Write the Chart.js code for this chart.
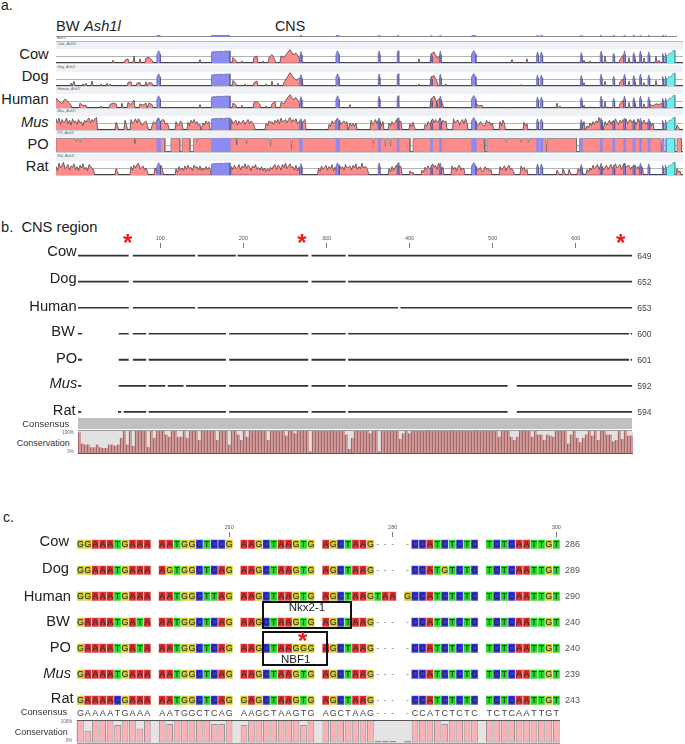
<!DOCTYPE html>
<html>
<head>
<meta charset="utf-8">
<title>Ash1l CNS alignment</title>
<script src="https://cdn.jsdelivr.net/npm/chart.js@4/dist/chart.umd.min.js"></script>
<style>
  html, body { margin: 0; padding: 0; background: #fff; }
  #page { position: relative; width: 685px; height: 744px; overflow: hidden; font-family: "Liberation Sans", Arial, sans-serif; color: #222; }
  #page canvas { position: absolute; }
  .lbl { position: absolute; white-space: pre; line-height: 1; }
  .shape { position: absolute; box-sizing: border-box; }
</style>
</head>
<body>
<div id="page"></div>
<script>
// =============================
// DATA - PANEL A (runs: first number is the start bin, the rest are % values)
// =============================
const trackNames = ["Cow", "Dog", "Human", "Mus", "PO", "Rat"];

const cowRuns = [[19,20],[23,20,30],[26,50],[28,30],[30,35,40,20],[48,25],[59,40,15],[62,15],[66,40,50],[69,15],
  [71,40,60,20],[75,50,40,70,95,60,70,40],[121,30],[125,60,80,35,50],[152,25],[157,30],[176,20],[178,15],[183,50],
  [188,25,55],[191,40],[193,30],[196,35],[200,50],[201,20]];
const dogRuns = [[5,20],[6,35],[9,15],[10,20],[12,35],[15,15],[17,20],[18,15],[24,25,30],[27,20,25],[30,30],[31,25,20],
  [59,40,15],[63,15],[66,25,35],[70,15],[72,35],[74,20],[76,25,60,95,65,40,55,45],[121,15],[125,60,75,30],[130,15],
  [155,10],[176,25],[183,35],[188,30,50],[191,35],[193,30],[196,25],[200,40]];
const humanRuns = [[0,70,50,30,65,45,20],[8,35,15,20],[15,15],[18,25,35,30],[22,35],[24,40,25,55],[28,30,20,35],[31,35,25],
  [48,25],[59,35,20],[62,20],[66,40,45,25],[70,15],[72,30,45],[75,40,30,70,95,60,75,40],[98,25],[102,5],[125,60,85,35],
  [127,50,70,20],[135,5],[140,30,15,20],[151,5],[167,35],[168,15],[176,20],[178,10],[183,50],[188,30,55],[191,40],
  [193,35],[196,30],[198,25,15,30,25,35]];

// Mus and Rat are read at half bin steps
const musRuns = [[0,80,50,85,40,75,55,60,85,45,70,35,80,55,65,40,75,50,60,30,70,55,75,85,50,75,60,80,90],[20,55,30],[23,70,35],
  [25,75,45,60,80,50,80,65,35,40,55,65,30],[32,30,60,45,60,85,50,60,75,70,40,50,30],[40,60,30,35,65,50],[44,55,30,70,50,75,45,60,30,40],
  [49,50,35,65,45,60],[58.5,75,45,60,70,35,65,45,55,70,40,60,75,45,65,55,35],
  [70,45,30,65,50,60,40,70,55,75,45,85,60,65,75,50,75,90,55,75,60,80,45,60,70,40,65,75],[91,40,25,65,45,60,75,50,70,40,55,65,45,60],
  [98,50,30,45,25,50],[105,70,40,55,75,45,75,60,30,60],[111,50,30,60,40,55,75,45,65,60],[118,45,25,55,20],
  [123,40,25,60,45,55,80,50,75,55,65,85,40,70,55,65],[132.5,80,50,65,70,35,60,75,45,80,50],[139,70,40,55,30,40,60,45,30,30,70,50,60,35,50],
  [148,60,30,70,45],[156,55,30,45],[175,45,25,60],[177,30,15,50,30,60,40,65,50,90,55,70],
  [183,60,35,50,70,40,65,45,80,55,40,70,50,75,60,80,45,65,75,50,70,60,40,80,55,65,45,70,40,55,35,60,30,50],[207,35,20]];
const ratRuns = [[0,60,30,85,50,70,90,45,60,75,35,65,55,80,40,60,30,70,50,80,40,55,30,75,65,45,40],[20,45,25],
  [25,60,35,70,50,75,85,45,55,65,35,50,25],[33,50,30,60,45,70,35],
  [40,45,20,60,35,50,30,65,40,70,45,55,30,70,50,60,35,65,30,50,35,60,40,55,30],
  [58.5,60,40,70,45,55,75,35,65,50,80,45,70,60,30,65,50,75,40,55,35,60,30,50,25,45,30,55,40,65,75,40,70,60,35,75,55,85,45,65,80,50,60,35,70,30,55],
  [87.5,50,25,65,40,55,70,35,60,45,75,30,55,40,65,70,45,60,35,75,50,55,65,35,70,50,80,40,60,45,85,50,60,55,25],
  [111,45,25,60,35,55,70,40,65,60],[118,30,15,20],[122,35,20,55,40,65,45,50,80,55,70,40,85,60,35,55],[132,65,40,55,30,60,70,35,50,45],
  [139,70,40,60,30,45,55,25,30,60,40,50,30,40],[148,60,35,50,65,30,55,70,40,45,25],[155,65,40,55,25,40],[167,35,15],[169,45,20],[171,40,15],
  [174,45,30,55,25],[177,40,20,50,35,70,45,60,75,40,65,60,35,55,70,40,60,75,45,65,80,50,60,75,40,70,85,55,65,70,40,60,55,70,45,60,35,65,50],
  [207,45,20,30]];

// PO is nearly solid: solid spans and narrow dips
const poSpans = [[0,36.3],[38.3,41.3],[42,44.7],[45.8,118],[119,143],[143.6,173.5],[174.5,202.5],[207,208.5]];
const poTop = 97;
const poDips = [[6.8,75],[8,70],[26.3,60],[47,70],[60.2,50],[63.5,60],[71.5,40],[78.5,15],[81.5,10],[105.8,60],[109.7,45],
  [111.5,40],[142.8,20],[150,70],[155,70],[157.4,70],[163.5,3],[201.8,5]];

// narrow exon spans share the same place on all tracks
const exonSpans = [[33.6,34.8,88],[81.3,82,82],[93.3,94.4,88],[107.4,108,86],[113.7,114.3,88],[124.9,125.4,70],[127.8,128.4,85],
  [138.5,140,90],[160.2,160.8,80],[161.4,162.2,78],[174.8,175.4,75],[181.4,182,85],[185.6,186.2,70],[189.2,189.8,85],
  [192.3,192.9,75],[194.5,195.1,85],[197.3,197.9,80],[202,202.6,70],[203,203.5,72]];
const bigExon = [[51.7,0],[51.8,76],[52.5,82],[53,80],[53.6,84],[54.2,81],[54.8,85],[55.5,82],[56,83],[56.6,86],[57.4,84],[58,86],[58,0]];
const utrPoints = [[203.5,0],[203.5,50],[204,55],[204.5,72],[205,66],[205.5,85],[206.3,92],[206.3,0]];
const poUtrPoints = [[203.5,0],[203.5,97],[206.3,97],[206.3,0]];

// =============================
// DATA - PANEL B (segments are alignment positions)
// =============================
const laneNames = ["Cow", "Dog", "Human", "BW", "PO", "Mus", "Rat"];
const laneLengths = [649, 652, 653, 600, 601, 592, 594];
const alignTicks = [100, 200, 300, 400, 500, 600];

const cowSegs = [[1,62],[67,142],[145,191],[193,278],[282,323],[326,668]];
const dogSegs = [[1,62],[67,278],[282,323],[326,668]];
const humanSegs = [[1,62],[67,142],[145,386],[389,668]];
const bwSegs = [[1,6],[50,62],[67,83],[86,179],[183,278],[282,323],[326,664],[666,668]];
const poSegs = [[1,6],[50,62],[67,83],[86,179],[183,278],[282,323],[326,664],[666,668]];
const musSegs = [[1,5],[50,83],[86,106],[109,128],[131,179],[183,278],[282,323],[326,518],[529,668]];
const ratSegs = [[1,5],[49,53],[56,83],[86,179],[183,278],[282,323],[326,518],[529,668]];

const bConservation = [95,45,40,40,28,28,40,28,25,25,40,40,35,40,70,100,40,100,35,100,
  100,100,100,30,100,70,100,100,100,85,75,100,100,75,75,100,70,100,100,100,
  60,100,100,100,100,100,60,100,100,100,40,100,100,85,60,100,75,100,100,100,
  100,100,100,60,100,100,100,100,100,80,100,100,90,100,100,100,100,10,100,100,
  100,100,100,100,100,100,100,100,100,85,20,70,100,100,100,100,100,90,100,100,
  10,100,100,100,100,100,100,65,90,100,90,100,100,100,100,100,100,100,100,100,
  100,100,100,100,100,100,100,100,100,100,100,100,100,100,100,100,100,100,100,100,
  75,100,100,100,75,60,75,100,100,100,100,75,100,85,85,60,85,80,75,100,
  100,100,100,45,85,100,70,50,70,85,100,80,100,60,100,100,85,85,55,60,
  100,65,100,80,80];

// =============================
// DATA - PANEL C
// =============================
const seqNames = ["Cow", "Dog", "Human", "BW", "PO", "Mus", "Rat"];
const seqLengths = [286, 289, 290, 240, 240, 239, 243];
const seqCow   = "GGAAATGAAA AATGGCTCCG AAGCTAAGTG AGCTAAG--- -CCATCTCTC TCTCAATTGT";
const seqDog   = "GGAAATGAAA AGTGGCTCAG AAGCTAAGTG AGCTAAG--- -CCATGTCTC TCTCAATTGT";
const seqHuman = "GGAAATGAAA AATGGCTTAG AAGCTAAGTG AGCTAAGTAA GCCATCTCTC TCTCAATTGT";
const seqBW    = "GAAAATGATA AATGGCTCAG AAGCTAAGTG AGCTAAG--- -CCATCTCTC TCTCAATTGT";
const seqPO    = "GAAAATGATA AATGGCTCAG AAGCTAAGGG AGCTAAG--- -CCATCTCTC TCTCAATTGT";
const seqMus   = "GAAAATGAAA AATGGCTCAG AAGCTAAGTG AGCTAAG--- -CCATCTCTC TCTCAATTGT";
const seqRat   = "GAAAACGAAA AATGGCTCAG GAGCTAAGTG AGCTAAG--- -CCATCTCTC TCTCAATTGT";
const seqConsensus = "GAAAATGAAA AATGGCTCAG AAGCTAAGTG AGCTAAG--- -CCATCTCTC TCTCAATTGT";
const seqTickCols = [20, 42, 64];
const seqTickLabels = ["260", "280", "300"];

const cConservation = [100,55,100,100,100,80,100,100,65,100,null,
  100,85,100,100,100,100,100,85,85,100,null,
  80,100,100,100,100,100,100,100,80,100,null,
  100,100,100,100,100,100,100,10,10,10,null,
  10,100,100,100,100,85,100,100,100,100,null,
  100,100,100,100,100,100,100,100,100,100];

const baseFill = { A: "#de3030", C: "#3232d6", G: "#d2ca2c", T: "#2ad62a" };
const baseEdge = { A: "#f3b4b4", C: "#aeaeee", G: "#ececa4", T: "#a8eca8" };

// =============================
// HELPERS
// =============================
const page = document.getElementById("page");
Chart.defaults.animation = false;
Chart.defaults.responsive = false;
Chart.defaults.font.family = '"Liberation Sans", Arial, sans-serif';
Chart.defaults.plugins.legend.display = false;
Chart.defaults.plugins.tooltip.enabled = false;

function label(text, x, y, size, opts = {}) {
  const d = document.createElement("div");
  d.className = "lbl";
  d.textContent = text;
  d.style.left = x + "px";
  d.style.top = y + "px";
  d.style.fontSize = size + "px";
  if (opts.color) d.style.color = opts.color;
  if (opts.italic) d.style.fontStyle = "italic";
  if (opts.bold) d.style.fontWeight = "bold";
  const tx = opts.align === "right" ? "-100%" : opts.align === "center" ? "-50%" : "0";
  d.style.transform = `translate(${tx},-50%)`;
  page.appendChild(d);
  return d;
}

function rect(x, y, w, h, css) {
  const d = document.createElement("div");
  d.className = "shape";
  d.style.cssText = `left:${x}px;top:${y}px;width:${w}px;height:${h}px;${css}`;
  page.appendChild(d);
}

function star(x, y) {
  label("*", x, y + 3.2, 24, { align: "center", color: "#f01818", bold: true });
}

// plot box in page pixels, extra room around it for ticks
function addChart(x, y, w, h, room, config) {
  const left = Math.floor(x - room.side);
  const top = Math.floor(y - room.top);
  const right = Math.ceil(x + w + room.side);
  const bottom = Math.ceil(y + h + room.bottom);
  const c = document.createElement("canvas");
  c.width = right - left;
  c.height = bottom - top;
  c.style.left = left + "px";
  c.style.top = top + "px";
  page.appendChild(c);
  config.options.layout = { padding: {
    left: x - left, right: right - x - w,
    top: y - top - (room.axis || 0), bottom: bottom - y - h
  } };
  return new Chart(c.getContext("2d"), config);
}

function runsToPoints(runs, step) {
  const pts = [{ x: 0, y: 0 }];
  runs.forEach(run => {
    const start = run[0];
    const vals = run.slice(1);
    pts.push({ x: start - 0.35, y: 0 });
    vals.forEach((v, i) => pts.push({ x: start + i * step, y: v }));
    pts.push({ x: start + (vals.length - 1) * step + 0.35, y: 0 });
  });
  pts.push({ x: 209, y: 0 });
  return pts;
}

function poToPoints() {
  const pts = [{ x: 0, y: 0 }];
  poSpans.forEach(s => {
    pts.push({ x: s[0], y: 0 }, { x: s[0], y: poTop });
    poDips.filter(d => d[0] > s[0] && d[0] < s[1]).forEach(d => {
      pts.push({ x: d[0] - 0.2, y: poTop }, { x: d[0], y: d[1] }, { x: d[0] + 0.2, y: poTop });
    });
    pts.push({ x: s[1], y: poTop }, { x: s[1], y: 0 });
  });
  pts.push({ x: 209, y: 0 });
  return pts;
}

function exonPoints(topOverride) {
  const pts = [];
  exonSpans.forEach(s => {
    const t = topOverride || s[2];
    const sh = topOverride ? t : t * 0.7;
    pts.push({ x: s[0], y: 0 }, { x: s[0], y: sh }, { x: (s[0] + s[1]) / 2, y: t }, { x: s[1], y: sh }, { x: s[1], y: 0 });
  });
  bigExon.forEach(p => {
    pts.push({ x: p[0], y: topOverride && p[1] ? topOverride : p[1] });
  });
  return pts.sort((a, b) => a.x - b.x);
}

function rulerPoints() {
  const pts = [];
  exonSpans.concat([[bigExon[0][0], bigExon[bigExon.length - 1][0]]]).forEach(s => {
    pts.push({ x: s[0], y: 0 }, { x: s[0], y: 100 }, { x: s[1], y: 100 }, { x: s[1], y: 0 });
  });
  return pts.sort((a, b) => a.x - b.x);
}

function pairsToPoints(pairs) {
  return pairs.map(p => ({ x: p[0], y: p[1] }));
}

function segsToPoints(segs, row) {
  const pts = [];
  segs.forEach(s => pts.push({ x: s[0], y: row }, { x: s[1], y: row }, { x: s[1], y: null }));
  return pts;
}

// =============================
// PANEL A
// =============================
label("a.", 1, 5, 14);
label("BW ", 56, 26, 14.7);
label("Ash1l", 84, 26, 14.7, { italic: true });
label("CNS", 275, 26, 14.3);

// gene ruler on top
rect(56, 41, 627, 1, "background:#bbb");
label("Ash1l", 57, 38.7, 3.5, { color: "#666" });
addChart(56, 35, 627, 2, { side: 2, top: 0, bottom: 0 }, {
  type: "line",
  data: { datasets: [{
    data: rulerPoints(),
    borderColor: "#7c7cec", borderWidth: 0, backgroundColor: "#7c7cec", fill: "origin", pointRadius: 0
  }] },
  options: {
    scales: {
      x: { type: "linear", min: 0, max: 209, display: false },
      y: { min: 0, max: 100, display: false }
    }
  },
  plugins: [{
    id: "rulerLine",
    beforeDatasetsDraw(chart) {
      const ctx = chart.ctx, a = chart.chartArea;
      ctx.fillStyle = "#8a8a8a";
      ctx.fillRect(a.left, a.bottom - 1, chart.scales.x.getPixelForValue(207) - a.left, 1);
    }
  }]
});

const trackRuns = { Cow: cowRuns, Dog: dogRuns, Human: humanRuns, Mus: musRuns, Rat: ratRuns };
const trackSteps = { Cow: 1, Dog: 1, Human: 1, Mus: 0.5, Rat: 0.5 };
const trackPlotTops = [49, 72, 94, 116, 138, 161];
const trackStripTops = [42, 64.5, 87, 109, 131, 153.5];
const trackLabelY = [54, 75.5, 98.5, 122, 143.5, 165.5];

trackNames.forEach((name, i) => {
  rect(56, trackStripTops[i], 627, trackPlotTops[i] - trackStripTops[i], "background:#eef2f6");
  label(name + "_Ash1l", 57.5, trackStripTops[i] + 3, 3.6, { italic: true, color: "#555" });
  label(name, 48.7, trackLabelY[i], 14.7, { align: "right", italic: name === "Mus" });

  const isPO = name === "PO";
  addChart(56, trackPlotTops[i], 627, 14, { side: 1, top: 0, bottom: 1 }, {
    type: "line",
    data: { datasets: [
      { label: name, data: isPO ? poToPoints() : runsToPoints(trackRuns[name], trackSteps[name]),
        backgroundColor: "#ff8a8a", borderColor: isPO ? "#666" : "#4a4a4a",
        borderWidth: isPO ? 0.6 : 0.8, fill: "origin", pointRadius: 0, tension: 0, order: 3 },
      { label: "exon", data: exonPoints(isPO ? 97 : null), backgroundColor: "#8c8cf0", borderColor: isPO ? "#8c8cf0" : "#50508c",
        borderWidth: 0.6, fill: "origin", pointRadius: 0, tension: 0, order: 2 },
      { label: "utr", data: pairsToPoints(isPO ? poUtrPoints : utrPoints), backgroundColor: "#68f0f0", borderColor: "#4c8c8c",
        borderWidth: 0.6, fill: "origin", pointRadius: 0, tension: 0, order: 1 }
    ] },
    options: {
      scales: {
        x: { type: "linear", min: 0, max: 209, display: false },
        y: {
          min: 0, max: 100,
          ticks: { display: false, stepSize: 50 },
          border: { display: false },
          afterFit(s) { s.width = 0; },
          grid: {
            drawTicks: false,
            lineWidth: c => c.tick.value === 0 ? 1.2 : 1,
            color: c => c.tick.value === 0 ? "#3c3c3c" : c.tick.value === 50 ? "#b4b4b4" : "rgba(0,0,0,0)"
          }
        }
      }
    }
  });
});

// =============================
// PANEL B
// =============================
label("b.  CNS region", 1, 226.7, 14.7);

const laneSegs = [cowSegs, dogSegs, humanSegs, bwSegs, poSegs, musSegs, ratSegs];
addChart(78, 248, 554.3, 171.6, { side: 14, top: 14, bottom: 0, axis: 13 }, {
  type: "scatter",
  data: { datasets: laneNames.map((name, i) => ({
    label: name,
    data: segsToPoints(laneSegs[i], i),
    showLine: true, spanGaps: false, pointRadius: 0,
    borderColor: "#333", borderWidth: name === "PO" ? 2 : 1.7, borderCapStyle: "butt"
  })) },
  options: {
    scales: {
      x: {
        type: "linear", position: "top", min: 1, max: 668,
        afterBuildTicks(s) { s.ticks = alignTicks.map(v => ({ value: v })); },
        afterFit(s) { s.height = 13; },
        grid: { drawOnChartArea: false, tickLength: 5, tickColor: "#555", tickWidth: 0.8 },
        border: { display: false },
        ticks: { font: { size: 5.5 }, color: "#555", padding: 1, maxRotation: 0 }
      },
      y: { min: -0.296, max: 6.3, reverse: true, display: false }
    }
  }
});

star(127.7, 240);
star(302, 240);
star(620.7, 239.5);

const laneRight = [76.7, 76.7, 76.7, 75, 77.3, 77.3, 75.7];
const laneLabelY = [251, 278, 305.7, 331, 357.7, 382.7, 410];
laneNames.forEach((name, i) => {
  label(name, laneRight[i], laneLabelY[i], 14.7, { align: "right", italic: name === "Mus" });
  label(String(laneLengths[i]), 637.3, 255.7 + 26 * i, 8.6, { color: "#444" });
});

label("Consensus", 22.3, 424, 9.4, { color: "#333" });
label("Conservation", 16.7, 442.7, 9, { color: "#333" });
label("100%", 73.7, 432.7, 4.5, { align: "right", color: "#666" });
label("0%", 73.7, 451.7, 4.5, { align: "right", color: "#666" });
rect(78, 418, 554.3, 11, "background:#c0c0c0");
rect(78, 430, 554.3, 1, "background:#9a9a9a");

const bChart = addChart(78, 431, 555, 22.5, { side: 0, top: 0, bottom: 1 }, {
  type: "bar",
  data: {
    labels: bConservation.map((v, i) => i),
    datasets: [{
      data: bConservation, backgroundColor: "#d39c9c", borderColor: "#8a5050",
      borderWidth: { left: 1, right: 0, top: 0, bottom: 0 }, borderSkipped: false,
      barPercentage: 1, categoryPercentage: 1
    }]
  },
  options: {
    scales: {
      x: { display: false },
      y: { min: 0, max: 100, ticks: { display: false, stepSize: 100 }, border: { display: false },
        afterFit(s) { s.width = 0; },
        grid: { drawTicks: false, color: c => c.tick.value === 0 ? "#555" : "rgba(0,0,0,0)" } }
    }
  }
});
bChart.canvas.style.background = "linear-gradient(#e2e2e2, #e2e2e2) no-repeat 0 0 / 100% 22.5px";

// =============================
// PANEL C
// =============================
label("c.", 3, 517, 14);

const seqRows = [seqCow, seqDog, seqHuman, seqBW, seqPO, seqMus, seqRat];
const cellPoints = [], cellFill = [], cellEdge = [];
seqRows.forEach((seq, row) => {
  seq.split("").forEach((b, col) => {
    if (!baseFill[b]) return;
    cellPoints.push({ x: col + 0.5, y: [row - 0.18, row + 0.18] });
    cellFill.push(baseFill[b]);
    cellEdge.push(baseEdge[b]);
  });
});

const letterPlugin = {
  id: "letters",
  afterDatasetsDraw(chart) {
    const ctx = chart.ctx, xs = chart.scales.x, ys = chart.scales.y;
    ctx.save();
    ctx.textAlign = "center";
    ctx.textBaseline = "middle";
    ctx.font = '9px "Liberation Sans", Arial, sans-serif';
    seqRows.concat([seqConsensus]).forEach((seq, row) => {
      const isConsensus = row === seqRows.length;
      const rowValue = isConsensus ? 6.5 : row;
      seq.split("").forEach((b, col) => {
        if (b === " ") return;
        ctx.fillStyle = b === "-" ? "#888" : (isConsensus ? "#444" : "#222");
        ctx.fillText(b, xs.getPixelForValue(col + 0.5), ys.getPixelForValue(rowValue) + 0.5);
      });
    });
    ctx.restore();
  }
};

addChart(76.7, 537, 483.3, 182, { side: 14, top: 18, bottom: 0, axis: 17 }, {
  type: "bar",
  data: { datasets: [{
    data: cellPoints, backgroundColor: cellFill, borderColor: cellEdge,
    borderWidth: 0.7, borderSkipped: false, barThickness: 7.2
  }] },
  options: {
    scales: {
      x: {
        type: "linear", position: "top", min: 0, max: 65, offset: false,
        afterBuildTicks(s) { s.ticks = seqTickCols.map(c => ({ value: c + 0.5 })); },
        afterFit(s) { s.height = 17; },
        grid: { offset: false, drawOnChartArea: false, tickLength: 5, tickColor: "#555", tickWidth: 0.8 },
        border: { display: false },
        ticks: {
          font: { size: 5.5 }, color: "#555", padding: 1, maxRotation: 0,
          callback: v => seqTickLabels[seqTickCols.indexOf(v - 0.5)]
        }
      },
      y: { min: -0.28, max: 6.72, reverse: true, display: false }
    }
  },
  plugins: [letterPlugin]
});

const seqRight = [69, 69, 71, 70, 71, 71, 73.7];
const seqLabelY = [541.3, 567.7, 595.7, 620.7, 647, 672.7, 698.3];
seqNames.forEach((name, i) => {
  label(name, seqRight[i], seqLabelY[i], 14.7, { align: "right", italic: name === "Mus" });
  label(String(seqLengths[i]), 565, 544.3 + 26 * i, 9, { color: "#555" });
});

label("Consensus", 20.7, 713.3, 9.3, { color: "#333" });
label("Conservation", 14.7, 731.7, 9, { color: "#333" });
label("100%", 72.3, 721.7, 4.5, { align: "right", color: "#666" });
label("0%", 72.3, 740.7, 4.5, { align: "right", color: "#666" });

const cChart = addChart(76.7, 720.5, 483.3, 22.5, { side: 0, top: 1, bottom: 1 }, {
  type: "bar",
  data: {
    labels: cConservation.map((v, i) => i),
    datasets: [{
      data: cConservation, backgroundColor: "#ffb0b4", borderColor: "#949494",
      borderWidth: 1, borderSkipped: false, barPercentage: 0.9, categoryPercentage: 1
    }]
  },
  options: {
    scales: {
      x: { display: false },
      y: { min: 0, max: 100, ticks: { display: false, stepSize: 100 }, border: { display: false },
        afterFit(s) { s.width = 0; },
        grid: { drawTicks: false, color: c => c.tick.value === 100 ? "#555" : "#999" } }
    }
  }
});
cChart.canvas.style.background = "linear-gradient(#e4e4e4, #e4e4e4) no-repeat 0 1px / 100% 23px";

// transcription factor boxes over the alignment
rect(262.3, 601, 89.4, 28, "border:2px solid #111");
rect(262.3, 630.5, 66, 35.5, "border:2px solid #111");
label("Nkx2-1", 307, 607.7, 11.5, { align: "center" });
label("NBF1", 295.7, 660, 11.5, { align: "center" });
star(302.7, 638);
</script>
</body>
</html>
